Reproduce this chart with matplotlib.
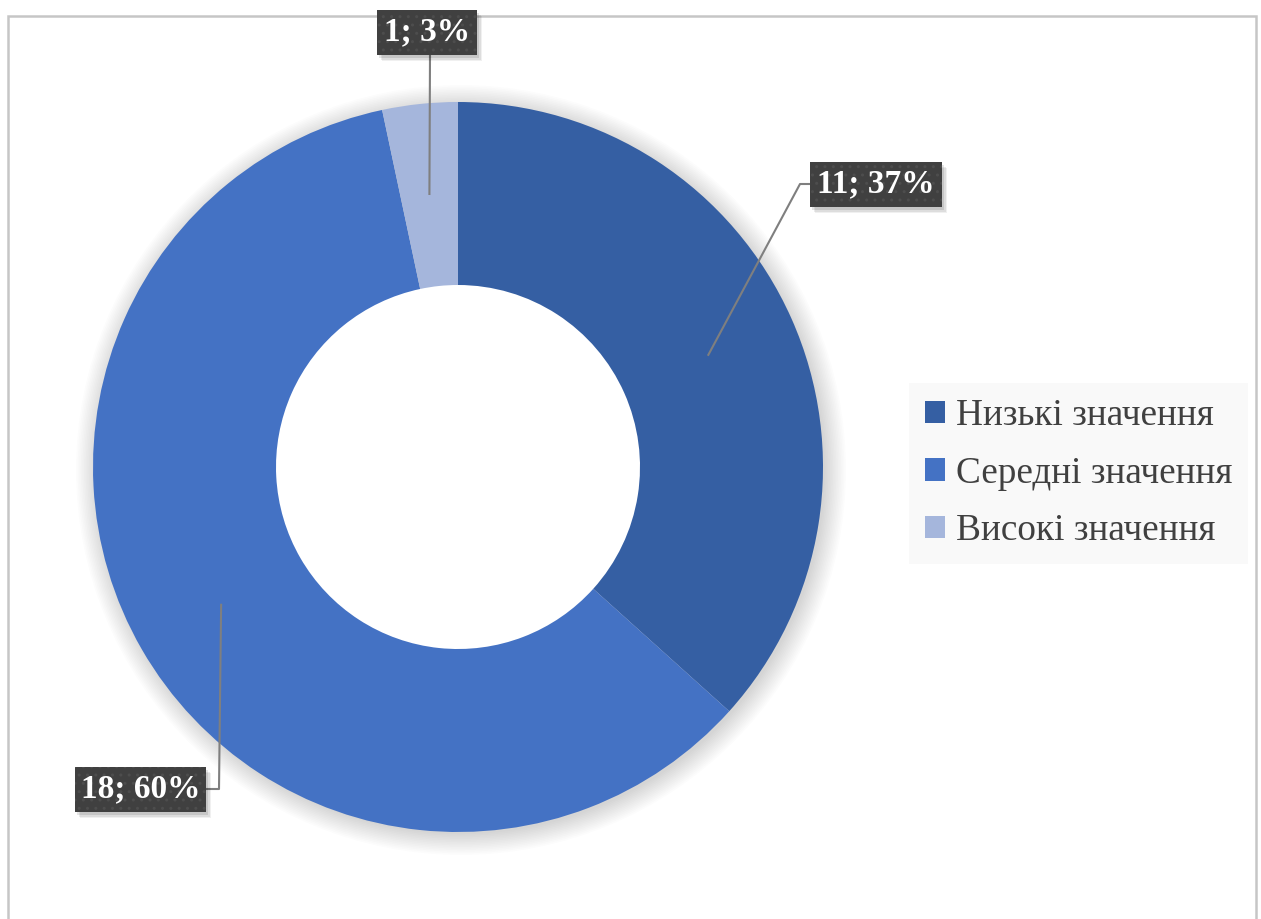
import numpy as np
import matplotlib
matplotlib.use("Agg")
import matplotlib.pyplot as plt
from matplotlib.patches import Rectangle, Circle, Patch

categories = ["Низькі значення", "Середні значення", "Високі значення"]
values = [11, 18, 1]
percents = [37, 60, 3]
colors = ["#355FA3", "#4472C4", "#A5B6DC"]

plt.rcParams["hatch.color"] = "#565656"
plt.rcParams["hatch.linewidth"] = 1.0

W, H = 1261, 919
fig = plt.figure(figsize=(W / 100, H / 100), dpi=100)
ax = fig.add_axes([0, 0, 1, 1])

cx, cy = 458, H - 467
R, ring = 365, 183

# soft shadow around the ring
for i in range(14):
    r = R + 20 - i * 1.6
    ax.add_patch(Circle((cx + 3, cy - 3), r, color="#000000", alpha=0.010, lw=0, zorder=1))
# hole stays white
ax.add_patch(Circle((cx, cy), R - ring + 1, color="white", lw=0, zorder=1.5))

wedges, _ = ax.pie(values, radius=R, center=(cx, cy), startangle=90, counterclock=False,
                   colors=colors, wedgeprops=dict(width=ring, linewidth=0), frame=True)
for w in wedges:
    w.set_zorder(2)
ax.set_xlim(0, W)
ax.set_ylim(0, H)
ax.set_aspect("equal")
ax.axis("off")

# label anchors computed from data
total = sum(values)
cum = np.cumsum([0] + values)
mid_r = R - ring / 2
anchors = []
for i in range(len(values)):
    ang = np.deg2rad(90 - (cum[i] + values[i] / 2) / total * 360)
    anchors.append((cx + mid_r * np.cos(ang), cy + mid_r * np.sin(ang)))

# label boxes (x0, y0_top, x1, y1_bottom) in image pixel coords
boxes = [(810, 162, 942, 207), (75, 767, 206, 812), (377, 10, 477, 55)]
elbows = [
    [(800, 184), (810, 184)],
    [(219, 789), (206, 789)],
    [(430, 55)],
]
line_col = "#7f7f7f"
for i in range(len(values)):
    ax_, ay_ = anchors[i]
    pts = [(ax_, ay_)] + [(x, H - y) for x, y in elbows[i]]
    xs, ys = zip(*pts)
    ax.plot(xs, ys, color=line_col, lw=1.5, zorder=3, solid_capstyle="butt")
    x0, y0, x1, y1 = boxes[i]
    for k, a in enumerate([0.06, 0.08, 0.10]):
        d = 6 - k * 1.5
        ax.add_patch(Rectangle((x0 + d - 1, H - y1 - d), x1 - x0, y1 - y0, color="#000000",
                               alpha=a, lw=0, zorder=4))
    ax.add_patch(Rectangle((x0, H - y1), x1 - x0, y1 - y0, facecolor="#404040", edgecolor="#4d4d4d",
                           hatch="..", lw=0, zorder=5))
    ax.text((x0 + x1) / 2, H - (y0 + y1) / 2 + 1, f"{values[i]}; {percents[i]}%", color="white",
            fontsize=24, fontweight="bold", family="Liberation Serif", ha="center", va="center", zorder=6)

# legend
handles = [Patch(facecolor=c, edgecolor="none") for c in colors]
leg = ax.legend(handles, categories, loc="upper left", bbox_to_anchor=(909 / W, 1 - 383 / H),
                bbox_transform=fig.transFigure, frameon=True, fancybox=False,
                prop={"family": "Liberation Serif", "size": 26.8}, labelcolor="#404040",
                handlelength=0.55, handleheight=0.55, handletextpad=0.28, labelspacing=0.62,
                borderpad=0.42, borderaxespad=0)
leg.get_frame().set_facecolor("#F8F8F8")
leg.get_frame().set_edgecolor("none")

# outer border
ax.add_patch(Rectangle((8, -10), 1248, H - 8 + 10 - 8, fill=False, edgecolor="#C6C6C6", lw=1.8, zorder=0))

fig.savefig("out.png", dpi=100)
